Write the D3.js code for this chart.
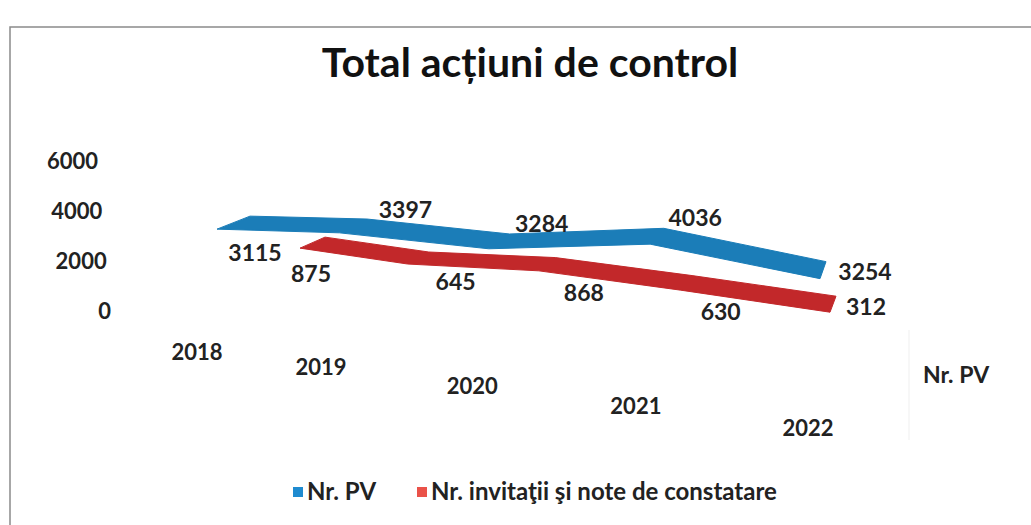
<!DOCTYPE html>
<html>
<head>
<meta charset="utf-8">
<script src="https://cdn.jsdelivr.net/npm/d3@7"></script>
<style>
  body { margin: 0; background: #fff; }
  svg { display: block; font-family: Lato, "Open Sans", sans-serif; }
</style>
</head>
<body>
<div id="chart"></div>
<script>
// chart data
const years = ["2018", "2019", "2020", "2021", "2022"];
const nrPV = [3115, 3397, 3284, 4036, 3254];
const nrInvitatii = [875, 645, 868, 630, 312];
const yTicks = [0, 2000, 4000, 6000];
const seriesNames = ["Nr. PV", "Nr. invitaţii şi note de constatare"];

const width = 1031;
const height = 525;

const svg = d3.select("#chart").append("svg")
    .attr("width", width)
    .attr("height", height);

svg.append("rect").attr("width", width).attr("height", height).attr("fill", "#fff");

// chart frame
svg.append("rect")
    .attr("x", 10).attr("y", 27)
    .attr("width", 1040).attr("height", 520)
    .attr("fill", "none")
    .attr("stroke", "#8a8a8a")
    .attr("stroke-width", 1.5);

// title
svg.append("text")
    .attr("x", 530).attr("y", 77)
    .attr("text-anchor", "middle")
    .attr("font-size", "41px")
    .attr("font-weight", "bold")
    .attr("fill", "#111")
    .text("Total acțiuni de control");

// fake 3d projection: category depth grows a bit faster towards the back
const depth = d3.scalePow().exponent(1.15).domain([0, years.length - 1]).range([0, 1]);
const lift = d3.scaleLinear().domain([0, 6000]).range([0, 150]);

// value axis on the back wall
const yScale = d3.scaleLinear().domain([0, 6000]).range([311, 161]);
const yLabelX = d3.scaleLinear().domain([0, 6000]).range([111, 98]);

svg.append("g").selectAll("text")
    .data(yTicks)
    .enter().append("text")
    .attr("x", d => yLabelX(d))
    .attr("y", d => yScale(d))
    .attr("dy", "0.35em")
    .attr("text-anchor", "end")
    .attr("font-size", "22px")
    .attr("font-weight", "bold")
    .attr("fill", "#222")
    .text(d => d);

// category labels along the floor diagonal
const catX = d3.scaleLinear().domain([0, 1]).range([197, 808]);
const catY = d3.scaleLinear().domain([0, 1]).range([352, 428]);

svg.append("g").selectAll("text")
    .data(years)
    .enter().append("text")
    .attr("x", (d, i) => catX(depth(i)))
    .attr("y", (d, i) => catY(depth(i)))
    .attr("dy", "0.35em")
    .attr("text-anchor", "middle")
    .attr("font-size", "22px")
    .attr("font-weight", "bold")
    .attr("fill", "#222")
    .text(d => d);

// series axis label + faint wall edge
svg.append("line")
    .attr("x1", 909).attr("x2", 909)
    .attr("y1", 330).attr("y2", 440)
    .attr("stroke", "#efefef");

svg.append("text")
    .attr("x", 956).attr("y", 375)
    .attr("dy", "0.35em")
    .attr("text-anchor", "middle")
    .attr("font-size", "23px")
    .attr("font-weight", "bold")
    .attr("fill", "#222")
    .text(seriesNames[0]);

// ribbons
const series = [
    {
        values: nrPV, color: "#1b7db8",
        x: d3.scaleLinear().domain([0, 1]).range([217, 820]),
        base: d3.scaleLinear().domain([0, 1]).range([307, 360]),
        dx: d3.scaleLinear().domain([0, 1]).range([33, 6]),
        dy: d3.scaleLinear().domain([0, 1]).range([-13, -17]),
        labelOffsets: [[38, 24], [66, -23], [53, -25], [45, -26], [45, -7]]
    },
    {
        values: nrInvitatii, color: "#c2282a",
        x: d3.scaleLinear().domain([0, 1]).range([300, 830]),
        base: d3.scaleLinear().domain([0, 1]).range([270, 320]),
        dx: d3.scaleLinear().domain([0, 1]).range([25, 6]),
        dy: d3.scaleLinear().domain([0, 1]).range([-11, -16]),
        labelOffsets: [[11, 26], [48, 18], [45, 22], [40, 22], [36, -5]]
    }
];

const ribbon = d3.line().x(d => d[0]).y(d => d[1]);

series.forEach(s => {
    const front = s.values.map((v, i) => {
        const t = depth(i);
        return [s.x(t), s.base(t) - lift(v)];
    });
    const back = front.map((p, i) => {
        const t = depth(i);
        return [p[0] + s.dx(t), p[1] + s.dy(t)];
    });

    svg.append("path")
        .attr("d", ribbon(front.concat(back.slice().reverse())) + "Z")
        .attr("fill", s.color)
        .attr("stroke", s.color)
        .attr("stroke-width", 1)
        .attr("stroke-linejoin", "round");

    svg.append("g").selectAll("text")
        .data(s.values)
        .enter().append("text")
        .attr("x", (d, i) => front[i][0] + s.labelOffsets[i][0])
        .attr("y", (d, i) => front[i][1] + s.labelOffsets[i][1])
        .attr("dy", "0.35em")
        .attr("text-anchor", "middle")
        .attr("font-size", "23px")
        .attr("font-weight", "bold")
        .attr("fill", "#222")
        .text(d => d);
});

// legend
const legendColors = ["#1f8bd0", "#ea5249"];
const legendX = [293, 417];

const legend = svg.append("g").selectAll("g")
    .data(seriesNames)
    .enter().append("g")
    .attr("transform", (d, i) => `translate(${legendX[i]}, 492)`);

legend.append("rect")
    .attr("x", 0).attr("y", -5)
    .attr("width", 10).attr("height", 10)
    .attr("fill", (d, i) => legendColors[i]);

legend.append("text")
    .attr("x", 14)
    .attr("dy", "0.35em")
    .attr("font-size", "24px")
    .attr("font-weight", "bold")
    .attr("fill", "#222")
    .text(d => d);
</script>
</body>
</html>
